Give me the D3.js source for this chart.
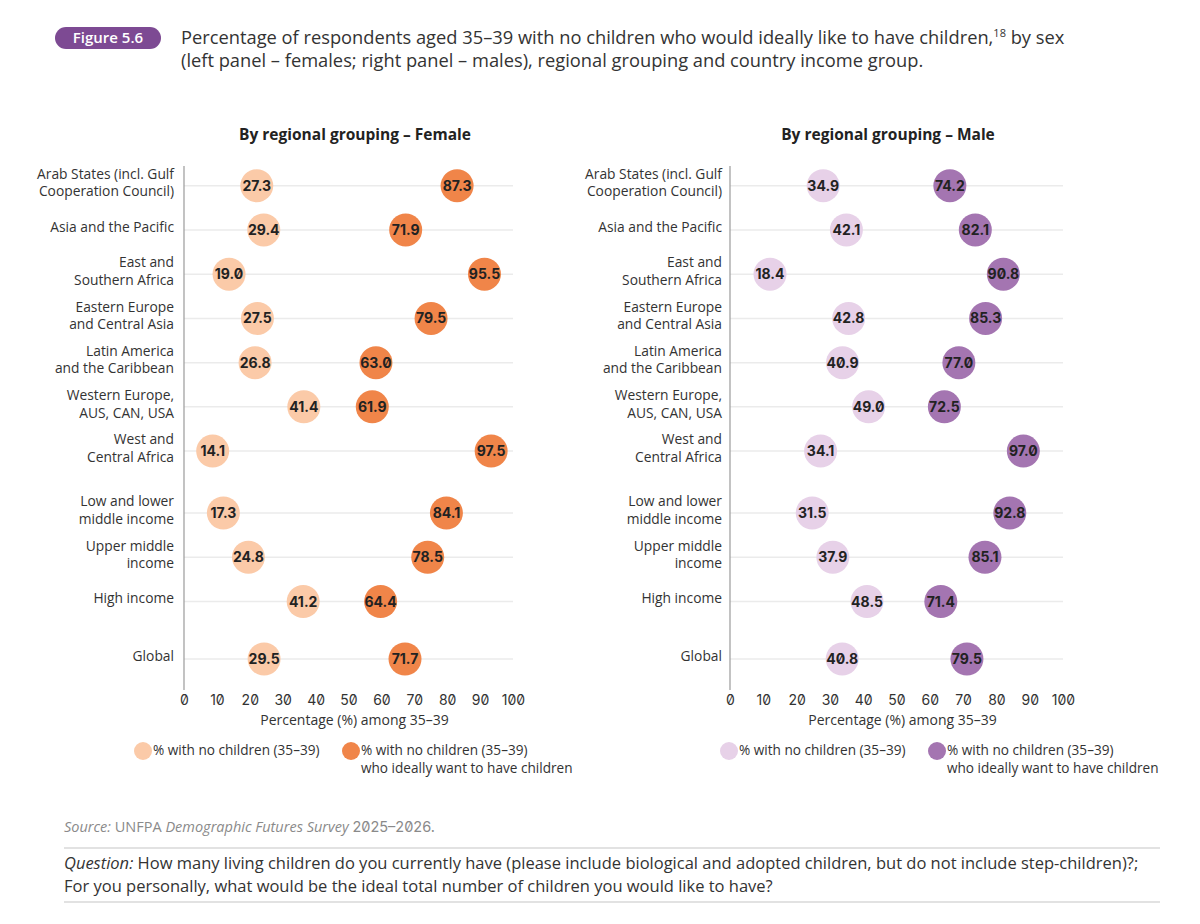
<!DOCTYPE html>
<html>
<head>
<meta charset="utf-8">
<script src="https://cdn.jsdelivr.net/npm/d3@7"></script>
<style>
  body { margin: 0; background: #fff; }
  svg { font-family: "Open Sans", "Noto Sans", sans-serif; }
  .num { font-family: Inter, sans-serif; font-feature-settings: "zero" 1; }
</style>
</head>
<body>
<div id="chart"></div>
<script>
// Categories, one entry per row (label lines) and the block each row belongs to
const categoryLines = [
  ['Arab States (incl. Gulf', 'Cooperation Council)'],
  ['Asia and the Pacific'],
  ['East and', 'Southern Africa'],
  ['Eastern Europe', 'and Central Asia'],
  ['Latin America', 'and the Caribbean'],
  ['Western Europe,', 'AUS, CAN, USA'],
  ['West and', 'Central Africa'],
  ['Low and lower', 'middle income'],
  ['Upper middle', 'income'],
  ['High income'],
  ['Global']
];
const categoryBlock = [0, 0, 0, 0, 0, 0, 0, 1, 1, 1, 2];

// % with no children (35-39) / % of those who ideally want children
const femaleNoChildren = [27.3, 29.4, 19.0, 27.5, 26.8, 41.4, 14.1, 17.3, 24.8, 41.2, 29.5];
const femaleWantChildren = [87.3, 71.9, 95.5, 79.5, 63.0, 61.9, 97.5, 84.1, 78.5, 64.4, 71.7];
const maleNoChildren = [34.9, 42.1, 18.4, 42.8, 40.9, 49.0, 34.1, 31.5, 37.9, 48.5, 40.8];
const maleWantChildren = [74.2, 82.1, 90.8, 85.3, 77.0, 72.5, 97.0, 92.8, 85.1, 71.4, 79.5];

const tickValues = [0, 10, 20, 30, 40, 50, 60, 70, 80, 90, 100];
const legendLabels = [['% with no children (35\u201339)'], ['% with no children (35\u201339)', 'who ideally want to have children']];

const width = 1200, height = 924;
const svg = d3.select('#chart').append('svg').attr('width', width).attr('height', height);

// header
svg.append('rect').attr('x', 55).attr('y', 27).attr('width', 106).attr('height', 22).attr('rx', 11).attr('fill', '#7d4a93');
svg.append('text').attr('x', 108).attr('y', 43).attr('text-anchor', 'middle').attr('fill', '#fff')
  .attr('font-size', 15).attr('font-weight', 600).text('Figure 5.6');
const title = svg.append('text').attr('x', 181).attr('y', 44).attr('fill', '#333').attr('font-size', 18.3);
title.append('tspan').text('Percentage of respondents aged 35\u201339 with no children who would ideally like to have children,');
title.append('tspan').attr('font-size', 11).attr('dy', -7).text('18');
title.append('tspan').attr('dy', 7).text(' by sex');
svg.append('text').attr('x', 181).attr('y', 67).attr('fill', '#333').attr('font-size', 18.3)
  .text('(left panel \u2013 females; right panel \u2013 males), regional grouping and country income group.');

// row positions: one step per row, extra gap between blocks
const rowIndex = categoryLines.map((d, i) => i + categoryBlock[i] * 0.4 - (categoryBlock[i] === 2 ? 0.1 : 0));
const y = d3.scaleLinear().domain([0, d3.max(rowIndex)]).range([185.7, 659]);

const panels = [
  { title: 'By regional grouping \u2013 Female', titleX: 355, low: femaleNoChildren, high: femaleWantChildren,
    axisRange: [184, 513], dotRange: [165.6, 499.5], labelX: 174, lightColor: '#fbcaa8', darkColor: '#f08549',
    legendX: [143, 351] },
  { title: 'By regional grouping \u2013 Male', titleX: 888, low: maleNoChildren, high: maleWantChildren,
    axisRange: [730, 1063], dotRange: [710.7, 1033], labelX: 722, lightColor: '#e7d1e8', darkColor: '#a475b1',
    legendX: [729, 937] }
];

const r = 16.5;

panels.forEach(p => {
  const x = d3.scaleLinear().domain([0, 100]).range(p.axisRange);
  const xDot = d3.scaleLinear().domain([0, 100]).range(p.dotRange);
  const g = svg.append('g');

  g.append('text').attr('x', p.titleX).attr('y', 140).attr('text-anchor', 'middle').attr('fill', '#222')
    .attr('font-size', 15.5).attr('font-weight', 700).text(p.title);

  // gridlines
  g.selectAll('.grid').data(rowIndex).join('line')
    .attr('x1', x(0)).attr('x2', x(100))
    .attr('y1', d => y(d)).attr('y2', d => y(d))
    .attr('stroke', '#ebebeb').attr('stroke-width', 1.5);

  // axis line + ticks
  g.append('line').attr('x1', x(0)).attr('x2', x(0)).attr('y1', 166).attr('y2', 690)
    .attr('stroke', '#9a9a9a').attr('stroke-width', 1.2);
  const axis = d3.axisBottom(x).tickValues(tickValues).tickSize(0).tickPadding(0);
  const ax = g.append('g').attr('transform', 'translate(0,695)').call(axis);
  ax.select('.domain').remove();
  ax.selectAll('text').attr('class', 'num').attr('font-size', 14).attr('fill', '#333').attr('dy', '0.71em');

  g.append('text').attr('x', (p.axisRange[0] + p.axisRange[1]) / 2 + 6).attr('y', 725).attr('text-anchor', 'middle')
    .attr('fill', '#333').attr('font-size', 14).text('Percentage (%) among 35\u201339');

  // category labels
  const lab = g.selectAll('.lab').data(categoryLines).join('text')
    .attr('text-anchor', 'end').attr('fill', '#333').attr('font-size', 13.8);
  lab.each(function(lines, i) {
    const cy = y(rowIndex[i]) - 3;
    const t = d3.select(this);
    lines.forEach((s, k) => {
      t.append('tspan').attr('x', p.labelX).attr('y', cy + (k - (lines.length - 1) / 2) * 17.5 + 5).text(s);
    });
  });

  // dots
  [[p.low, p.lightColor], [p.high, p.darkColor]].forEach(([vals, col]) => {
    const dots = g.selectAll(null).data(vals).join('g')
      .attr('transform', (d, i) => `translate(${xDot(d)},${y(rowIndex[i])})`);
    dots.append('circle').attr('r', r).attr('fill', col);
    dots.append('text').attr('class', 'num').attr('text-anchor', 'middle').attr('dy', '0.36em')
      .attr('font-size', 14).attr('font-weight', 700).attr('fill', '#222').text(d => d.toFixed(1));
  });

  // legend
  [p.lightColor, p.darkColor].forEach((col, k) => {
    const lx = p.legendX[k];
    g.append('circle').attr('cx', lx).attr('cy', 751).attr('r', 9).attr('fill', col);
    legendLabels[k].forEach((s, j) => g.append('text').attr('fill', '#333').attr('font-size', 13.6)
      .attr('x', lx + 10).attr('y', 755 + j * 17.5).text(s));
  });
});

// footer
const src = svg.append('text').attr('x', 64).attr('y', 832).attr('fill', '#8a8a8a').attr('font-size', 14.5);
src.append('tspan').attr('font-style', 'italic').text('Source: ');
src.append('tspan').text('UNFPA ');
src.append('tspan').attr('font-style', 'italic').text('Demographic Futures Survey ');
src.append('tspan').attr('class', 'num').text('2025\u20132026.');
svg.append('line').attr('x1', 64).attr('x2', 1160).attr('y1', 848).attr('y2', 848).attr('stroke', '#d9d9d9').attr('stroke-width', 1.5);
const q = svg.append('text').attr('x', 64).attr('y', 869).attr('fill', '#333').attr('font-size', 16.5);
q.append('tspan').attr('font-style', 'italic').text('Question:');
q.append('tspan').text(' How many living children do you currently have (please include biological and adopted children, but do not include step-children)?;');
svg.append('text').attr('x', 64).attr('y', 892).attr('fill', '#333').attr('font-size', 16.5)
  .text('For you personally, what would be the ideal total number of children you would like to have?');
svg.append('line').attr('x1', 64).attr('x2', 1160).attr('y1', 902).attr('y2', 902).attr('stroke', '#d9d9d9').attr('stroke-width', 1.5);
</script>
</body>
</html>
